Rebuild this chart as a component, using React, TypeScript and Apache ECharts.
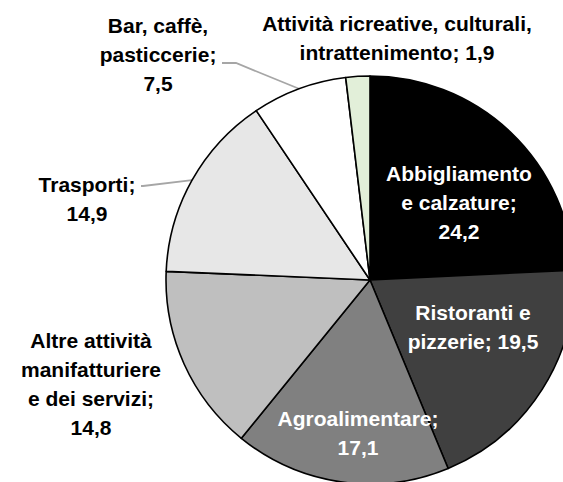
import React, { useEffect, useRef } from "react";
import * as echarts from "echarts";

const categories = [
  "Abbigliamento e calzature",
  "Ristoranti e pizzerie",
  "Agroalimentare",
  "Altre attività manifatturiere e dei servizi",
  "Trasporti",
  "Bar, caffè, pasticcerie",
  "Attività ricreative, culturali, intrattenimento",
];
const values = [24.2, 19.5, 17.1, 14.8, 14.9, 7.5, 1.9];
const labelTexts = [
  "Abbigliamento\ne calzature;\n",
  "Ristoranti e\npizzerie; ",
  "Agroalimentare;\n",
  "Altre attività\nmanifatturiere\ne dei servizi;\n",
  "Trasporti;\n",
  "Bar, caffè,\npasticcerie;\n",
  "Attività ricreative, culturali,\nintrattenimento; ",
];
const colors = ["#000000", "#404040", "#808080", "#bfbfbf", "#e7e7e7", "#ffffff", "#e2efd9"];
const inside = [true, true, true, false, false, false, false];
const labelPos: [number, number][] = [
  [459, 202],
  [473, 327],
  [358, 433],
  [91, 384],
  [87, 199],
  [158, 54],
  [397, 38],
];
const showLine = [false, false, false, false, true, true, false];
const lineMid: ([number, number] | null)[] = [null, null, null, null, [143, 186], [236, 63], null];
const lineEnd: ([number, number] | null)[] = [null, null, null, null, [141, 186], [222, 63], null];

export default function App() {
  const ref = useRef<HTMLDivElement>(null);
  useEffect(() => {
    if (!ref.current) return;
    const chart = echarts.init(ref.current, null, { renderer: "svg" });
    const fmt = (v: number) => v.toFixed(1).replace(".", ",");
    const data = categories.map((name, i) => ({
      name,
      value: values[i],
      itemStyle: { color: colors[i] },
      label: {
        show: true,
        position: inside[i] ? "inside" : "outside",
        formatter: () => labelTexts[i] + fmt(values[i]),
        color: inside[i] ? "#ffffff" : "#000000",
      },
      labelLine: { show: showLine[i] },
    }));
    chart.setOption({
      animation: false,
      backgroundColor: "#ffffff",
      series: [
        {
          type: "pie",
          center: [370, 280],
          radius: 204,
          startAngle: 90,
          clockwise: true,
          avoidLabelOverlap: false,
          itemStyle: { borderColor: "#000000", borderWidth: 1.6 },
          label: {
            fontFamily: "'Liberation Sans', Arial, sans-serif",
            fontWeight: "bold",
            fontSize: 21,
            lineHeight: 29,
            align: "center",
          },
          labelLine: {
            lineStyle: { color: "#a6a6a6", width: 1.8 },
            length: 20,
            length2: 15,
          },
          labelLayout: (params: any) => {
            const i = params.dataIndex;
            const out: any = {
              x: labelPos[i][0],
              y: labelPos[i][1],
              align: "center",
              verticalAlign: "middle",
            };
            if (showLine[i] && params.labelLinePoints) {
              out.labelLinePoints = [params.labelLinePoints[0], lineMid[i], lineEnd[i]];
            }
            return out;
          },
          data,
        },
      ],
    });
    return () => chart.dispose();
  }, []);
  return (
    <div
      ref={ref}
      style={{ position: "fixed", left: 0, top: 0, width: 563, height: 482 }}
    />
  );
}
